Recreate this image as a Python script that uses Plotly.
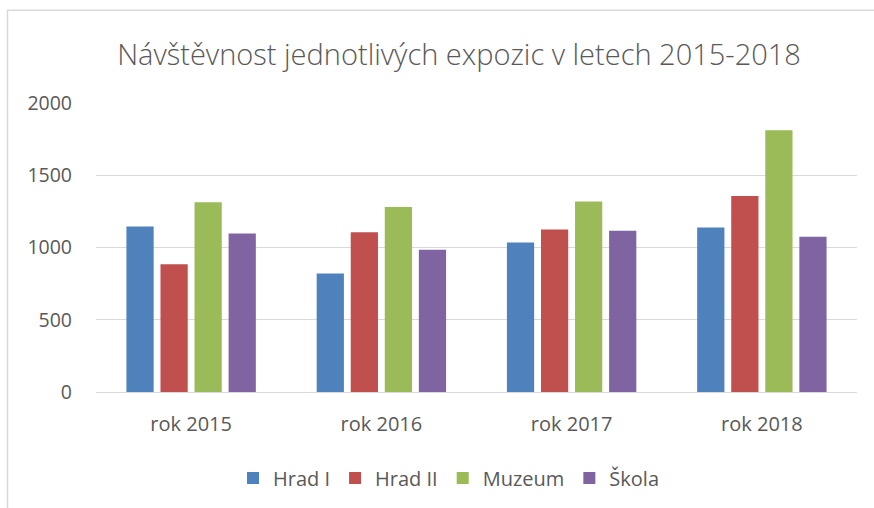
import plotly.graph_objects as go

categories = ["rok 2015", "rok 2016", "rok 2017", "rok 2018"]
hrad_i = [1145, 820, 1035, 1138]
hrad_ii = [884, 1106, 1125, 1357]
muzeum = [1313, 1281, 1318, 1811]
skola = [1097, 985, 1116, 1074]

series = [
    ("Hrad I", hrad_i, "#4F81BD"),
    ("Hrad II", hrad_ii, "#C0504D"),
    ("Muzeum", muzeum, "#9BBB59"),
    ("Škola", skola, "#8064A2"),
]

W, H = 874, 508
L, R, T, B = 96, 17, 103, 115
pw = W - L - R
ph = H - T - B

FONT = "Open Sans, Noto Sans, Liberation Sans, sans-serif"
GRAY = "#595959"

fig = go.Figure()
for name, vals, col in series:
    fig.add_trace(go.Bar(
        x=categories, y=vals, name=name,
        marker=dict(color=col, line=dict(width=0)),
    ))

def px_to_paper_x(px):
    return (px - L) / pw

def py_to_paper_y(py):
    return (H - B - py) / ph

bx = px_to_paper_x(7.5)
by = py_to_paper_y(10)

fig.update_layout(
    width=W, height=H,
    margin=dict(l=L, r=R, t=T, b=B),
    paper_bgcolor="white", plot_bgcolor="white",
    barmode="group", bargap=0.284, bargroupgap=0.2,
    font=dict(family=FONT, color=GRAY, size=20),
    title=dict(
        text="Návštěvnost jednotlivých expozic v letech 2015-2018",
        x=459 / W, xanchor="center",
        y=1 - 55 / H, yanchor="middle", yref="container",
        font=dict(family=FONT, size=29, color=GRAY, weight=300),
    ),
    xaxis=dict(
        showgrid=False, showline=False, zeroline=False,
        ticks="", ticklabelstandoff=18,
        tickfont=dict(size=20, color=GRAY),
    ),
    yaxis=dict(
        range=[0, 2000], dtick=500, tick0=0,
        showgrid=True, gridcolor="#D9D9D9", gridwidth=1,
        zeroline=True, zerolinecolor="#D9D9D9", zerolinewidth=1,
        showline=False, ticks="", ticklabelstandoff=23,
        tickfont=dict(size=19.5, color=GRAY),
    ),
    showlegend=True,
    legend=dict(
        orientation="h",
        x=px_to_paper_x(449), xanchor="center",
        y=py_to_paper_y(478), yanchor="middle",
        font=dict(size=20, color=GRAY),
        itemwidth=30,
    ),
    shapes=[
        dict(type="path", xref="paper", yref="paper",
             path=f"M {bx},{py_to_paper_y(520)} L {bx},{by} L {px_to_paper_x(880)},{by}",
             line=dict(color="#D9D9D9", width=1.5)),
    ],
)

fig.write_html("out.html", config={"displayModeBar": False},
               post_script="document.body.style.margin='0px';")
